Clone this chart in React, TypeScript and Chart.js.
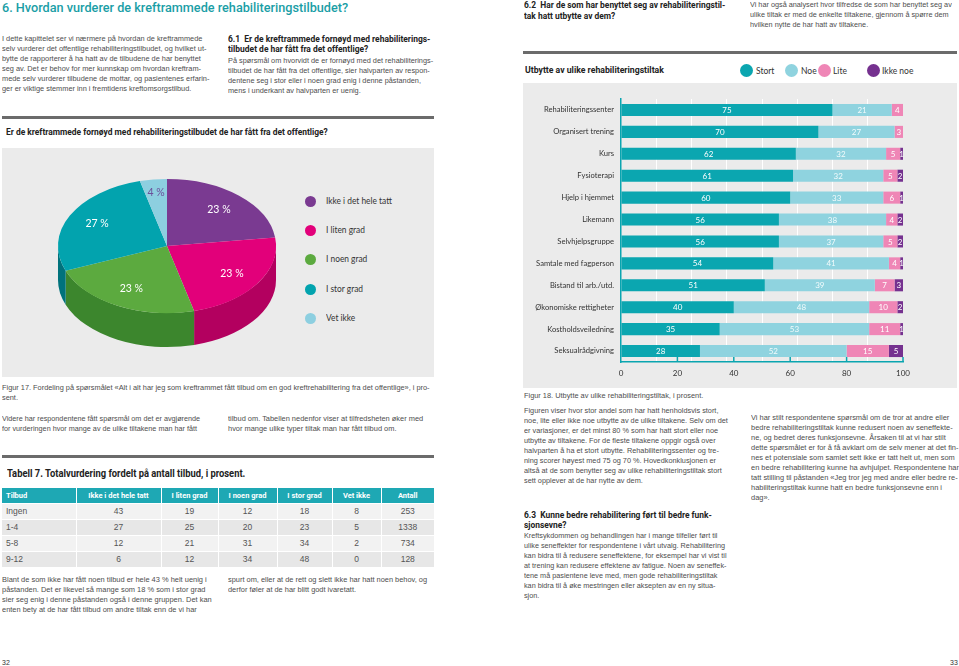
import React, { useEffect, useLayoutEffect, useRef, useState } from "react";
import { Chart, registerables } from "chart.js";

Chart.register(...registerables);

// ---------- DATA ----------
const pieLabels = ["Ikke i det hele tatt", "I liten grad", "I noen grad", "I stor grad", "Vet ikke"];
const pieValues = [23, 23, 23, 27, 4];

const barCategories = [
  "Rehabiliteringssenter",
  "Organisert trening",
  "Kurs",
  "Fysioterapi",
  "Hjelp i hjemmet",
  "Likemann",
  "Selvhjelpsgruppe",
  "Samtale med fagperson",
  "Bistand til arb./utd.",
  "Økonomiske rettigheter",
  "Kostholdsveiledning",
  "Seksualrådgivning",
];
const barSeriesNames = ["Stort", "Noe", "Lite", "Ikke noe"];
const stortValues = [75, 70, 62, 61, 60, 56, 56, 54, 51, 40, 35, 28];
const noeValues = [21, 27, 32, 32, 33, 38, 37, 41, 39, 48, 53, 52];
const liteValues = [4, 3, 5, 5, 6, 4, 5, 4, 7, 10, 11, 15];
const ikkeNoeValues = [0, 0, 1, 2, 1, 2, 2, 1, 3, 2, 1, 5];

const tableHeaders = ["Tilbud", "Ikke i det hele tatt", "I liten grad", "I noen grad", "I stor grad", "Vet ikke", "Antall"];
const tableGroups = ["Ingen", "1-4", "5-8", "9-12"];
const tableIkke = [43, 27, 12, 6];
const tableLiten = [19, 25, 21, 12];
const tableNoen = [12, 20, 31, 34];
const tableStor = [18, 23, 34, 48];
const tableVetIkke = [8, 5, 2, 0];
const tableAntall = [253, 1338, 734, 128];

// ---------- STYLE ----------
const TEAL = "#0aa5b0";
const pieColors = ["#7a3a91", "#e2007a", "#5caa3f", "#02a3ae", "#8dcfe0"];
const pieSideColors = ["#5a2a6d", "#b3005f", "#3c862d", "#00727c", "#6aa9b9"];
const pieTextColors = ["#ffffff", "#ffffff", "#ffffff", "#ffffff", "#6b4f9a"];
const barColors = ["#0ba6b0", "#8fd3df", "#ef86b6", "#75318f"];
const BODY = "#4d4d4d";
const HEAD = "#222222";
const PIE_SQUASH = 0.615;
const PIE_DEPTH = 34;

const pie3d = {
  id: "pie3d",
  beforeDatasetsDraw(chart: any) {
    const arcs = chart.getDatasetMeta(0).data as any[];
    const ctx = chart.ctx;
    ctx.save();
    if (!arcs.length) return;
    const cx = arcs[0].x, cy = arcs[0].y, R = arcs[0].outerRadius;
    ctx.translate(cx, cy);
    ctx.scale(1, PIE_SQUASH);
    ctx.translate(-cx, -cy);
    const D = PIE_DEPTH / PIE_SQUASH;
    arcs.forEach((arc: any, i: number) => {
      const a0 = Math.max(arc.startAngle, 0);
      const a1 = Math.min(arc.endAngle, Math.PI);
      if (a1 <= a0) return;
      ctx.beginPath();
      ctx.arc(cx, cy, R, a0, a1, false);
      ctx.arc(cx, cy + D, R, a1, a0, true);
      ctx.closePath();
      ctx.fillStyle = pieSideColors[i];
      ctx.fill();
    });
  },
  afterDatasetsDraw(chart: any) {
    const ctx = chart.ctx;
    ctx.restore();
    const arcs = chart.getDatasetMeta(0).data as any[];
    if (!arcs.length) return;
    const cx = arcs[0].x, cy = arcs[0].y, R = arcs[0].outerRadius;
    ctx.save();
    ctx.font = "10.5px Lato";
    ctx.textAlign = "center";
    ctx.textBaseline = "middle";
    arcs.forEach((arc: any, i: number) => {
      const mid = (arc.startAngle + arc.endAngle) / 2;
      const f = pieValues[i] < 8 ? 0.8 : 0.72;
      const x = cx + Math.cos(mid) * R * f;
      const y = cy + Math.sin(mid) * R * f * PIE_SQUASH;
      ctx.fillStyle = pieTextColors[i];
      ctx.fillText(pieValues[i] + " %", x, y);
    });
    ctx.restore();
  },
};

const barLabels = {
  id: "barLabels",
  afterDatasetsDraw(chart: any) {
    const ctx = chart.ctx;
    ctx.save();
    ctx.font = "8px Lato";
    ctx.textAlign = "center";
    ctx.textBaseline = "middle";
    chart.data.datasets.forEach((ds: any, di: number) => {
      const meta = chart.getDatasetMeta(di);
      ctx.fillStyle = di === 1 ? "#f2fbfc" : "#ffffff";
      meta.data.forEach((el: any, i: number) => {
        const v = ds.data[i];
        if (!v) return;
        ctx.fillText(String(v), (el.x + el.base) / 2, el.y + 0.5);
      });
    });
    const xs = chart.scales.x;
    ctx.strokeStyle = TEAL;
    ctx.lineWidth = 1.5;
    xs.ticks.forEach((t: any) => {
      if (t.value === 0) return;
      const px = xs.getPixelForValue(t.value);
      ctx.beginPath();
      ctx.moveTo(px, xs.top);
      ctx.lineTo(px, xs.top - 5);
      ctx.stroke();
    });
    ctx.restore();
  },
};

function Block(props: {
  x: number; y: number; lh?: number; lines: string[]; target?: number; refLine?: number;
  font?: string; size?: number; weight?: number | string; color?: string;
}) {
  const { x, y, lh = 10, lines, target, refLine = 0, font = "Liberation Sans", size = 8, weight = 400, color = BODY } = props;
  const ref = useRef<HTMLSpanElement>(null);
  const [s, setS] = useState(1);
  useLayoutEffect(() => {
    if (ref.current && target) {
      const w = ref.current.offsetWidth;
      if (w > 0) setS(target / w);
    }
  }, []);
  return (
    <div style={{ position: "absolute", left: x, top: y - lh / 2, fontFamily: font, fontSize: size, fontWeight: weight as any, color, lineHeight: lh + "px", whiteSpace: "nowrap" }}>
      {lines.map((t, i) => (
        <div key={i} style={{ height: lh, transform: `scaleX(${s})`, transformOrigin: "left center" }}>
          <span ref={i === refLine ? ref : undefined} style={{ display: "inline-block" }}>{t}</span>
        </div>
      ))}
    </div>
  );
}

function PieChart() {
  const ref = useRef<HTMLCanvasElement>(null);
  useEffect(() => {
    const chart = new Chart(ref.current!, {
      type: "pie",
      data: {
        labels: pieLabels,
        datasets: [{ data: pieValues, backgroundColor: pieColors, borderWidth: 0, radius: 109 } as any],
      },
      options: {
        animation: false,
        responsive: false,
        events: [],
        layout: { padding: 0 },
        plugins: { legend: { display: false }, tooltip: { enabled: false } },
      },
      plugins: [pie3d],
    });
    return () => chart.destroy();
  }, []);
  return <canvas ref={ref} width={240} height={240} style={{ position: "absolute", left: 47, top: 126, width: 240, height: 240 }} />;
}

function BarChart() {
  const ref = useRef<HTMLCanvasElement>(null);
  useEffect(() => {
    const series = [stortValues, noeValues, liteValues, ikkeNoeValues];
    const chart = new Chart(ref.current!, {
      type: "bar",
      data: {
        labels: barCategories,
        datasets: series.map((d, i) => ({
          label: barSeriesNames[i],
          data: d,
          backgroundColor: barColors[i],
          borderWidth: 0,
          barPercentage: 0.55,
          categoryPercentage: 1,
        })),
      },
      options: {
        indexAxis: "y",
        animation: false,
        responsive: false,
        events: [],
        layout: { padding: { left: 0, right: 54, top: 16, bottom: 0 } },
        plugins: { legend: { display: false }, tooltip: { enabled: false } },
        scales: {
          x: {
            type: "linear",
            stacked: true,
            min: 0,
            max: 100,
            position: "bottom",
            ticks: { stepSize: 20, color: "#333", font: { family: "Lato", size: 8 }, padding: 7 },
            grid: { display: true, drawOnChartArea: false, drawTicks: false },
            border: { display: true, color: TEAL, width: 1.5 },
            afterFit: (s: any) => { s.height = 26; },
          },
          x2: {
            type: "linear",
            min: 0,
            max: 100,
            position: "top",
            ticks: { display: false, stepSize: 12.5 },
            grid: {
              drawTicks: false,
              lineWidth: 1,
              color: (c: any) => (c.tick && (c.tick.value === 0 || c.tick.value === 100) ? "rgba(0,0,0,0)" : "#ffffff"),
            },
            border: { display: false },
            afterFit: (s: any) => { s.height = 0; },
          },
          y: {
            stacked: true,
            ticks: { color: "#333", font: { family: "Lato", size: 7.6 }, padding: 7 },
            grid: { display: false, drawTicks: false },
            border: { display: true, color: TEAL, width: 1.5 },
            afterFit: (s: any) => { s.width = 98; },
          },
        },
      } as any,
      plugins: [barLabels],
    });
    return () => chart.destroy();
  }, []);
  return <canvas ref={ref} width={434} height={305} style={{ position: "absolute", left: 523, top: 83, width: 434, height: 305, background: "#ebebeb" }} />;
}

function Dot({ cx, cy, r, color }: { cx: number; cy: number; r: number; color: string }) {
  return <div style={{ position: "absolute", left: cx - r, top: cy - r, width: 2 * r, height: 2 * r, borderRadius: "50%", background: color }} />;
}

function LegendText({ x, y, text, size, sx = 1 }: { x: number; y: number; text: string; size: number; sx?: number }) {
  return <div style={{ position: "absolute", left: x, top: y - 7, height: 14, lineHeight: "14px", fontFamily: "Lato", fontSize: size, color: "#333", whiteSpace: "nowrap", transform: `scaleX(${sx})`, transformOrigin: "left center" }}>{text}</div>;
}

function Table() {
  const colW = [74, 85, 57, 59, 55, 49, 53];
  const cols = [tableIkke, tableLiten, tableNoen, tableStor, tableVetIkke, tableAntall];
  return (
    <table style={{ position: "absolute", left: 2, top: 488, width: 432, borderCollapse: "collapse", tableLayout: "fixed", fontFamily: "Liberation Sans", fontSize: 8.5, color: "#555" }}>
      <colgroup>{colW.map((w, i) => <col key={i} style={{ width: w }} />)}</colgroup>
      <thead>
        <tr style={{ height: 15, background: "#1ea8b4" }}>
          {tableHeaders.map((h, i) => (
            <th key={i} style={{ borderLeft: i ? "1px solid #fff" : "none", color: "#fff", fontFamily: "Roboto", fontWeight: 700, fontSize: 7.5, textAlign: i ? "center" : "left", padding: i ? 0 : "0 0 0 4px", whiteSpace: "nowrap" }}>{h}</th>
          ))}
        </tr>
      </thead>
      <tbody>
        {tableGroups.map((g, r) => (
          <tr key={r} style={{ height: 16, background: r % 2 === 0 ? "#f2f2f2" : "#e7e7e7" }}>
            <td style={{ borderTop: "1px solid #fff", padding: "0 0 0 4px" }}>{g}</td>
            {cols.map((c, i) => (
              <td key={i} style={{ borderTop: "1px solid #fff", borderLeft: "1px solid #fff", textAlign: "center", padding: 0 }}>{c[r]}</td>
            ))}
          </tr>
        ))}
      </tbody>
    </table>
  );
}

export default function App() {
  const pieLegendY = [201, 230, 259, 289, 318];
  const barLegendDotX = [746, 791, 824, 873];
  const barLegendTextX = [756, 801, 833, 882];
  return (
    <div style={{ position: "absolute", left: 0, top: 0, width: 959, height: 666, background: "#fff", overflow: "hidden" }}>
      {/* LEFT PAGE */}
      <Block x={2} y={8} lh={14} size={13} weight={500} font="Roboto" color="#1a9ea6" target={346}
        lines={["6. Hvordan vurderer de kreftrammede rehabiliteringstilbudet?"]} />
      <Block x={2} y={39.3} target={200} lines={[
        "I dette kapittelet ser vi nærmere på hvordan de kreftrammede",
        "selv vurderer det offentlige rehabiliteringstilbudet, og hvilket ut-",
        "bytte de rapporterer å ha hatt av de tilbudene de har benyttet",
        "seg av. Det er behov for mer kunnskap om hvordan kreftram-",
        "mede selv vurderer tilbudene de mottar, og pasientenes erfarin-",
        "ger er viktige stemmer inn i fremtidens kreftomsorgstilbud.",
      ]} />
      <Block x={228} y={39.3} size={9} weight={700} font="Roboto" color={HEAD} target={202} lines={[
        "6.1\u00a0\u00a0Er de kreftrammede fornøyd med rehabiliterings-",
        "tilbudet de har fått fra det offentlige?",
      ]} />
      <Block x={228} y={60.7} lh={10.2} target={205} lines={[
        "På spørsmål om hvorvidt de er fornøyd med det rehabiliterings-",
        "tilbudet de har fått fra det offentlige, sier halvparten av respon-",
        "dentene seg i stor eller i noen grad enig i denne påstanden,",
        "mens i underkant av halvparten er uenig.",
      ]} />
      <div style={{ position: "absolute", left: 2, top: 116, width: 432, height: 3, background: "#6b6b6b" }} />
      <Block x={6} y={132} size={9} weight={700} font="Roboto" color={HEAD} target={322}
        lines={["Er de kreftrammede fornøyd med rehabiliteringstilbudet de har fått fra det offentlige?"]} />
      <div style={{ position: "absolute", left: 2, top: 148, width: 432, height: 229, background: "#ebebeb" }} />
      <PieChart />
      {pieLabels.map((l, i) => (
        <React.Fragment key={i}>
          <Dot cx={310} cy={pieLegendY[i]} r={5.5} color={pieColors[i]} />
          <LegendText x={326} y={pieLegendY[i]} text={l} size={9.5} sx={0.88} />
        </React.Fragment>
      ))}
      <Block x={2} y={387.7} target={428} lines={[
        "Figur 17. Fordeling på spørsmålet «Alt i alt har jeg som kreftrammet fått tilbud om en god kreftrehabilitering fra det offentlige», i pro-",
        "sent.",
      ]} />
      <Block x={2} y={419} target={198} lines={[
        "Videre har respondentene fått spørsmål om det er avgjørende",
        "for vurderingen hvor mange av de ulike tiltakene man har fått",
      ]} />
      <Block x={228} y={419} target={195} lines={[
        "tilbud om. Tabellen nedenfor viser at tilfredsheten øker med",
        "hvor mange ulike typer tiltak man har fått tilbud om.",
      ]} />
      <div style={{ position: "absolute", left: 2, top: 455, width: 432, height: 3, background: "#6b6b6b" }} />
      <Block x={7} y={474} size={10} weight={700} font="Roboto" color={HEAD} target={238}
        lines={["Tabell 7. Totalvurdering fordelt på antall tilbud, i prosent."]} />
      <Table />
      <Block x={2} y={580} lh={10.1} target={205} lines={[
        "Blant de som ikke har fått noen tilbud er hele 43 % helt uenig i",
        "påstanden. Det er likevel så mange som 18 % som i stor grad",
        "sier seg enig i denne påstanden også i denne gruppen. Det kan",
        "enten bety at de har fått tilbud om andre tiltak enn de vi har",
      ]} />
      <Block x={228} y={580} lh={10.1} target={199} lines={[
        "spurt om, eller at de rett og slett ikke har hatt noen behov, og",
        "derfor føler at de har blitt godt ivaretatt.",
      ]} />
      <Block x={2} y={663} size={7} color="#333" lines={["32"]} />

      {/* RIGHT PAGE */}
      <Block x={524} y={5.5} lh={10.2} size={9} weight={700} font="Roboto" color={HEAD} target={201} lines={[
        "6.2\u00a0\u00a0Har de som har benyttet seg av rehabiliteringstil-",
        "tak hatt utbytte av dem?",
      ]} />
      <Block x={750} y={5} lh={9.8} target={202} lines={[
        "Vi har også analysert hvor tilfredse de som har benyttet seg av",
        "ulike tiltak er med de enkelte tiltakene, gjennom å spørre dem",
        "hvilken nytte de har hatt av tiltakene.",
      ]} />
      <div style={{ position: "absolute", left: 523, top: 51, width: 434, height: 3, background: "#6b6b6b" }} />
      <Block x={525} y={70} size={9} weight={700} font="Roboto" color={HEAD} target={139}
        lines={["Utbytte av ulike rehabiliteringstiltak"]} />
      {barSeriesNames.map((n, i) => (
        <React.Fragment key={i}>
          <Dot cx={barLegendDotX[i]} cy={70} r={6.5} color={barColors[i]} />
          <LegendText x={barLegendTextX[i]} y={70.5} text={n} size={8.5} />
        </React.Fragment>
      ))}
      <BarChart />
      <Block x={524} y={395.7} target={179} lines={["Figur 18. Utbytte av ulike rehabiliteringstiltak, i prosent."]} />
      <Block x={524} y={410.7} lh={10.05} target={204} refLine={1} lines={[
        "Figuren viser hvor stor andel som har hatt henholdsvis stort,",
        "noe, lite eller ikke noe utbytte av de ulike tiltakene. Selv om det",
        "er variasjoner, er det minst 80 % som har hatt stort eller noe",
        "utbytte av tiltakene. For de fleste tiltakene oppgir også over",
        "halvparten å ha et stort utbytte. Rehabiliteringssenter og tre-",
        "ning scorer høyest med 75 og 70 %. Hovedkonklusjonen er",
        "altså at de som benytter seg av ulike rehabiliteringstiltak stort",
        "sett opplever at de har nytte av dem.",
      ]} />
      <Block x={524} y={515.3} size={9} weight={700} font="Roboto" color={HEAD} target={188} lines={[
        "6.3\u00a0\u00a0Kunne bedre rehabilitering ført til bedre funk-",
        "sjonsevne?",
      ]} />
      <Block x={524} y={535.7} target={193} lines={[
        "Kreftsykdommen og behandlingen har i mange tilfeller ført til",
        "ulike seneffekter for respondentene i vårt utvalg. Rehabilitering",
        "kan bidra til å redusere seneffektene, for eksempel har vi vist til",
        "at trening kan redusere effektene av fatigue. Noen av seneffek-",
        "tene må pasientene leve med, men gode rehabiliteringstiltak",
        "kan bidra til å øke mestringen eller aksepten av en ny situa-",
        "sjon.",
      ]} />
      <Block x={751} y={418} lh={9.95} target={198} lines={[
        "Vi har stilt respondentene spørsmål om de tror at andre eller",
        "bedre rehabiliteringstiltak kunne redusert noen av seneffekte-",
        "ne, og bedret deres funksjonsevne. Årsaken til at vi har stilt",
        "dette spørsmålet er for å få avklart om de selv mener at det fin-",
        "nes et potensiale som samlet sett ikke er tatt helt ut, men som",
        "en bedre rehabilitering kunne ha avhjulpet. Respondentene har",
        "tatt stilling til påstanden «Jeg tror jeg med andre eller bedre re-",
        "habiliteringstiltak kunne hatt en bedre funksjonsevne enn i",
        "dag».",
      ]} />
      <Block x={950} y={663} size={7} color="#333" lines={["33"]} />
    </div>
  );
}
